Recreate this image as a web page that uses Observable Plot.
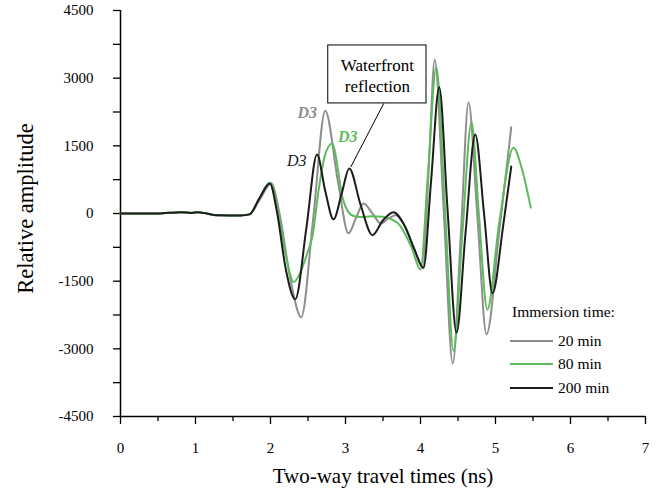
<!DOCTYPE html>
<html><head><meta charset="utf-8">
<script src="https://cdn.jsdelivr.net/npm/d3@7"></script>
<script src="https://cdn.jsdelivr.net/npm/@observablehq/plot@0.6"></script>
<style>
body{margin:0;background:#fff;}
#wrap{position:relative;width:668px;height:491px;font-family:"Liberation Serif","Times New Roman",serif;}
#legend{position:absolute;left:0;top:0;pointer-events:none;}
</style></head><body><div id="wrap"></div>
<script>
// Two-way travel time (ns) and relative amplitude for each immersion time
const t20 = [0,0.5,0.8,0.95,1.03,1.3,1.6,1.72,1.86,2.01,2.12,2.27,2.41,2.57,2.73,2.9,3.04,3.14,3.24,3.36,3.47,3.58,3.67,3.8,3.92,4.03,4.11,4.19,4.31,4.43,4.54,4.64,4.76,4.88,5.05,5.21];
const a20 = [0,0,30,10,30,-40,-45,-20,320,670,0,-1500,-2300,-100,2280,700,-440,-100,220,0,-220,-100,-40,-300,-800,-1200,1000,3410,50,-3320,-400,2460,-100,-2680,-400,1910];

const t80 = [0,0.5,0.8,0.95,1.03,1.3,1.6,1.72,1.85,1.99,2.1,2.2,2.31,2.4,2.49,2.56,2.64,2.72,2.82,2.97,3.09,3.2,3.35,3.5,3.6,3.72,3.88,4.0,4.1,4.21,4.33,4.44,4.56,4.68,4.78,4.89,5.05,5.24,5.35,5.47];
const a80 = [0,0,30,10,30,-40,-45,-20,330,680,50,-900,-1520,-1300,-880,-500,500,1250,1550,290,-45,-80,-60,-70,-120,-250,-750,-1240,900,3240,0,-3040,-400,2020,-50,-2130,-200,1460,1000,130];

const t200 = [0,0.5,0.8,0.95,1.03,1.3,1.6,1.72,1.85,1.99,2.09,2.2,2.33,2.48,2.62,2.73,2.84,2.95,3.05,3.2,3.36,3.5,3.64,3.78,3.92,4.04,4.14,4.25,4.36,4.48,4.6,4.73,4.85,4.96,5.1,5.21];
const a200 = [0,0,30,10,30,-40,-45,-20,330,665,0,-1200,-1900,-300,1310,500,-130,450,1000,200,-480,-150,30,-250,-800,-1210,700,2800,100,-2640,-440,1750,-50,-1770,-300,1040];

const seriesNames = ["20 min","80 min","200 min"];
const seriesColors = ["#8e8e8e","#5cbc5c","#1c1c1c"];
const seriesT = [t20,t80,t200];
const seriesA = [a20,a80,a200];

const yTicks = [-4500,-3000,-1500,0,1500,3000,4500];
const yMinor = [-3750,-2250,-750,750,2250,3750];
const xTicks = [0,1,2,3,4,5,6,7];
const xMinor = [0.5,1.5,2.5,3.5,4.5,5.5,6.5];

// annotation (data units)
const boxLines = ["Waterfront","reflection"];
const box = {x1:2.77, x2:4.08, y1:2440, y2:3725};
const leader = {x1:3.51, y1:2440, x2:3.07, y2:1030};
const d3Bold = [
  {t:2.49, a:2240, text:"D3", color:"#8e8e8e"},
  {t:3.03, a:1690, text:"D3", color:"#5cbc5c"}
];
const d3Plain = [
  {t:2.35, a:1170, text:"D3", color:"#1c1c1c"}
];

const rows = seriesNames.flatMap((name,k) => seriesT[k].map((t,i) => ({series:name, t, a:seriesA[k][i]})));

const font = '"Liberation Serif","Times New Roman",serif';
const fmt = d => String(d);

const chart = Plot.plot({
  width: 668, height: 491,
  marginLeft: 120, marginRight: 23, marginTop: 10, marginBottom: 75,
  style: {fontFamily: font, fontSize: "15px", background: "#fff", color: "#000", overflow: "visible"},
  x: {domain: [0,7]},
  y: {domain: [-4500,4500]},
  color: {domain: seriesNames, range: seriesColors},
  marks: [
    Plot.axisY(yTicks, {tickSize: 7, tickPadding: 20, label: null, tickFormat: fmt, fontSize: 15, stroke: "#000", strokeWidth: 1.3}),
    Plot.axisY(yMinor, {tickSize: 7, tickFormat: () => "", label: null, stroke: "#000", strokeWidth: 1.3}),
    Plot.axisX(xTicks, {tickSize: 8, tickPadding: 18, label: null, tickFormat: fmt, fontSize: 15, stroke: "#000", strokeWidth: 1.3}),
    Plot.axisX(xMinor, {tickSize: 5, tickFormat: () => "", label: null, stroke: "#000", strokeWidth: 1.3}),
    Plot.ruleX([0], {stroke: "#000", strokeWidth: 1.5}),
    Plot.ruleY([-4500], {stroke: "#000", strokeWidth: 1.5}),
    Plot.line(rows, {x: "t", y: "a", z: "series", stroke: "series", curve: "monotone-x", strokeWidth: 2}),
    Plot.link([leader], {x1: "x1", y1: "y1", x2: "x2", y2: "y2", stroke: "#000", strokeWidth: 1}),
    Plot.rect([box], {x1: "x1", x2: "x2", y1: "y1", y2: "y2", fill: "#fff", stroke: "#000", strokeWidth: 1}),
    Plot.text([boxLines.join("\n")], {x: (box.x1+box.x2)/2, y: (box.y1+box.y2)/2, text: d => d, fontSize: 17, lineHeight: 1.25, fill: "#000"}),
    Plot.text(d3Bold, {x: "t", y: "a", text: "text", fill: "color", fontWeight: "bold", fontStyle: "italic", fontSize: 16}),
    Plot.text(d3Plain, {x: "t", y: "a", text: "text", fill: "color", fontStyle: "italic", fontSize: 16}),
    Plot.text(["Relative amplitude"], {frameAnchor: "left", textAnchor: "middle", lineAnchor: "middle", dx: -95, dy: -5, rotate: -90, fontSize: 22.5, fill: "#000"}),
    Plot.text(["Two-way travel times (ns)"], {frameAnchor: "bottom", lineAnchor: "bottom", dy: 66, fontSize: 21, fill: "#000"})
  ]
});
const wrap = document.getElementById("wrap");
wrap.appendChild(chart);

// legend overlay
const lg = d3.select(wrap).append("svg").attr("id","legend").attr("width",668).attr("height",491)
  .style("font-family", font).style("font-size","15.5px");
lg.append("text").attr("x",512).attr("y",317).text("Immersion time:");
const legY = [341,364,388];
seriesNames.forEach((name,i) => {
  lg.append("line").attr("x1",510).attr("x2",553).attr("y1",legY[i]).attr("y2",legY[i]).attr("stroke",seriesColors[i]).attr("stroke-width",2);
  lg.append("text").attr("x",558).attr("y",legY[i]+5).text(name);
});
</script></body></html>
